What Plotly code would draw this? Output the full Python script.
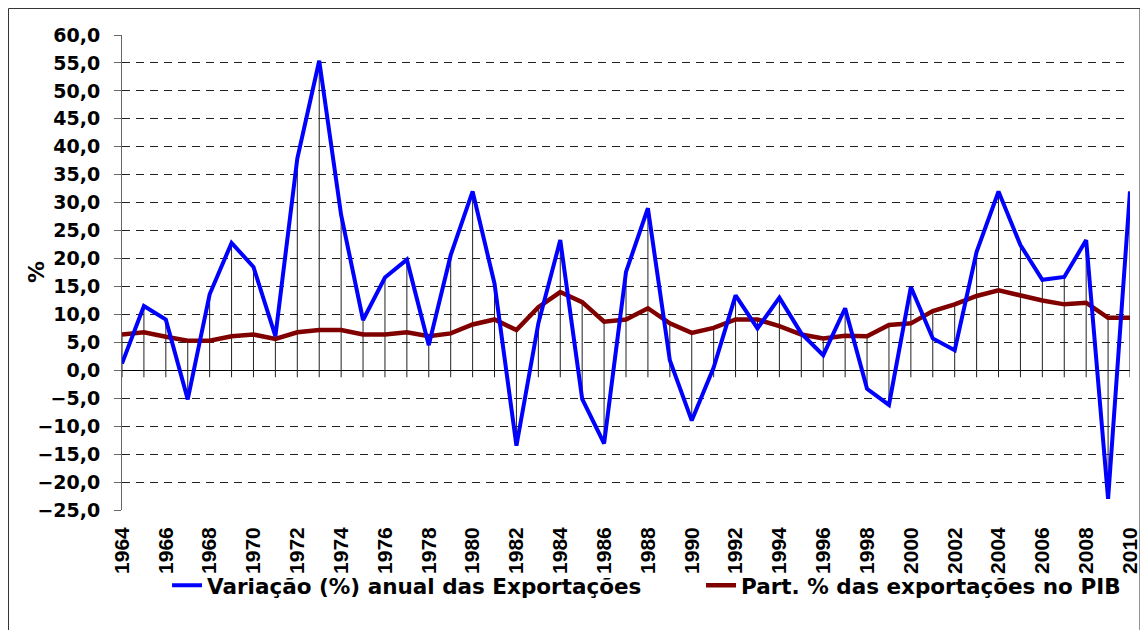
import plotly.graph_objects as go

years = list(range(1964, 2011))

variacao_exportacoes = [
    1.2, 11.5, 9.1, -5.2, 13.6, 22.8, 18.5, 6.1, 37.9, 55.4,
    27.8, 9.0, 16.6, 19.8, 4.5, 20.6, 32.0, 15.5, -13.5, 8.4,
    23.3, -5.1, -13.1, 17.6, 29.0, 1.8, -9.0, 0.5, 13.4, 7.5,
    13.0, 6.6, 2.7, 11.1, -3.3, -6.2, 14.9, 5.7, 3.6, 21.2,
    32.0, 22.4, 16.2, 16.7, 23.3, -23.0, 32.0,
]

part_exportacoes_pib = [
    6.4, 6.8, 6.0, 5.3, 5.3, 6.1, 6.4, 5.6, 6.8, 7.2,
    7.2, 6.4, 6.4, 6.8, 6.1, 6.6, 8.2, 9.1, 7.2, 11.3,
    14.0, 12.2, 8.7, 9.1, 11.1, 8.4, 6.7, 7.6, 9.1, 9.1,
    7.9, 6.4, 5.7, 6.2, 6.1, 8.1, 8.4, 10.6, 11.8, 13.3,
    14.3, 13.3, 12.5, 11.8, 12.1, 9.4, 9.4,
]

name_var = "Variação (%) anual das Exportações"
name_part = "Part. % das exportações no PIB"
y_ticks = list(range(-25, 61, 5))
x_ticks = list(range(1964, 2011, 2))

TICK_UNITS = 1.25  # little tick below the zero line, in data units

# drop lines from each year's points to the category axis
drop_x, drop_y = [], []
for yr, a, b in zip(years, variacao_exportacoes, part_exportacoes_pib):
    drop_x += [yr, yr, None]
    drop_y += [min(a, b, -TICK_UNITS), max(a, b, 0), None]

fig = go.Figure()
fig.add_trace(go.Scatter(x=drop_x, y=drop_y, mode="lines",
                         line=dict(color="#222222", width=1),
                         showlegend=False, hoverinfo="skip"))
fig.add_trace(go.Scatter(x=years, y=part_exportacoes_pib, mode="lines",
                         name=name_part, legend="legend2",
                         line=dict(color="#800000", width=4.5)))
fig.add_trace(go.Scatter(x=years, y=variacao_exportacoes, mode="lines",
                         name=name_var, legend="legend",
                         line=dict(color="#0000FF", width=4)))

legend_font = dict(family="DejaVu Sans", size=21.5, weight="bold", color="black")

fig.update_layout(
    width=1140, height=622, autosize=False,
    margin=dict(l=114, r=18, t=27, b=120, autoexpand=False),
    plot_bgcolor="white", paper_bgcolor="white",
    separators=",.",
    font=dict(family="DejaVu Sans", color="black"),
    legend=dict(orientation="h", xref="container", yref="container",
                x=0.1395, xanchor="left", y=0.072, yanchor="middle",
                font=legend_font, bgcolor="rgba(0,0,0,0)"),
    legend2=dict(orientation="h", xref="container", yref="container",
                 x=0.6079, xanchor="left", y=0.072, yanchor="middle",
                 font=legend_font, bgcolor="rgba(0,0,0,0)"),
    showlegend=True,
)

fig.update_xaxes(range=[1964, 2010], tickmode="array", tickvals=x_ticks,
                 ticktext=[str(v) for v in x_ticks], tickangle=-90,
                 tickfont=dict(family="Liberation Sans, Arial", size=21, weight="bold", color="black"),
                 showgrid=False, zeroline=False, showline=False, ticks="",
                 ticklabelstandoff=12, automargin=False)

fig.update_yaxes(range=[-25, 60], tickmode="array", tickvals=y_ticks, tickformat=".1f",
                 tickfont=dict(family="DejaVu Sans", size=19, weight="bold", color="black"),
                 showgrid=True, gridcolor="#222222", gridwidth=1, griddash="8px,6px",
                 zeroline=True, zerolinecolor="black", zerolinewidth=1,
                 showline=True, linecolor="#666666", linewidth=1,
                 ticks="outside", ticklen=7, tickcolor="#666666",
                 ticklabelstandoff=10, automargin=False)

fig.add_annotation(text="%", xref="paper", yref="paper", x=-0.0853, y=0.501,
                   xanchor="center", yanchor="middle",
                   textangle=-90, showarrow=False,
                   font=dict(family="DejaVu Sans", size=22, weight="bold", color="black"))

# outer chart frame
fig.add_shape(type="rect", xref="paper", yref="paper",
              x0=-0.1126, x1=1.0099, y0=-0.30, y1=1.0558,
              line=dict(color="#333333", width=1), fillcolor="rgba(0,0,0,0)", layer="below")

fig.write_html("out.html")
